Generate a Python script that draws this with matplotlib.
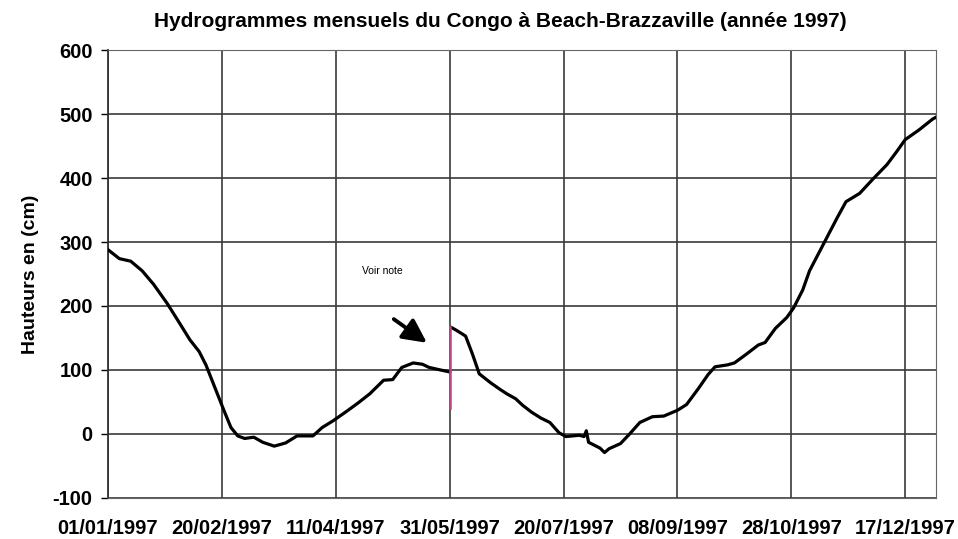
import numpy as np
import matplotlib
matplotlib.use("Agg")
from matplotlib import pyplot as plt
import matplotlib.dates as mdates

plt.rcParams['font.family'] = ['Liberation Sans', 'DejaVu Sans']
plt.rcParams['axes.unicode_minus'] = False

start = np.datetime64('1997-01-01')

# hauteurs (jour depuis le 01/01/1997, hauteur en cm)
days_a = [0, 5, 10, 15, 20, 26, 32, 36, 40, 43, 47, 51, 54, 57, 60, 64, 68, 73,
          78, 83, 90, 94, 99, 105, 110, 115, 121, 125, 129, 134, 138, 141, 146, 150]
haut_a = [288, 274, 270, 255, 234, 204, 170, 147, 129, 108, 72, 36, 10, -3, -7, -5, -13, -19,
          -14, -3, -3, 10, 21, 36, 49, 63, 84, 85, 104, 111, 109, 104, 100, 97]

days_b = [151, 153, 157, 160, 163, 168, 172, 175, 179, 182, 186, 190, 194, 198, 201, 204,
          207, 209, 210, 211, 216, 218, 220, 225, 229, 233.5, 239, 244, 250, 254, 259, 263.5,
          266.5, 272, 275, 280, 285.5, 288.5, 293, 298, 301, 305, 308, 314, 320, 324, 330,
          336, 342, 346, 350, 356, 362, 363.5]
haut_b = [166, 162, 153, 125, 94, 80, 70, 63, 55, 45, 34, 25, 18, 2, -4, -3,
          -2, -4, 5, -13, -22, -29, -23, -15, 0, 18, 27, 28, 37, 46, 70, 93,
          105, 108, 111, 124, 139, 143, 165, 182, 197, 225, 255, 296, 337, 363, 376,
          399, 421, 440, 460, 475, 492, 495]

# saut signalé (trait rose)
saut_day = 150.3
saut_bas, saut_haut = 40, 167

xtick_days = [0, 50, 100, 150, 200, 250, 300, 350]
yticks = [-100, 0, 100, 200, 300, 400, 500, 600]


def to_date(d):
    return start + np.array(np.array(d) * 24 * 60, dtype='timedelta64[m]')


fig = plt.figure(figsize=(9.58, 5.39), dpi=100)
ax = fig.add_axes([0.1127, 0.0761, 0.8643, 0.8311])

ax.plot(to_date(days_a), haut_a, color='black', lw=2.3, solid_joinstyle='round', zorder=3)
ax.plot(to_date(days_b), haut_b, color='black', lw=2.3, solid_joinstyle='round', zorder=3)
ax.plot(to_date([saut_day, saut_day]), [saut_bas, saut_haut], color='#b8468a', lw=1.8, zorder=4)

# note + fleche
ax.text(to_date(120.3), 254, "Voir note", fontsize=7.5, ha='center', va='center')
ax.annotate("", xy=(to_date(141), 140), xytext=(to_date(124.5), 182),
            arrowprops=dict(arrowstyle='-|>', mutation_scale=36, lw=2.8, color='black'))

ax.set_xlim(to_date(0), to_date(363.5))
ax.set_ylim(-100, 600)
ax.set_yticks(yticks)
ax.set_xticks(to_date(xtick_days))
ax.xaxis.set_major_formatter(mdates.DateFormatter('%d/%m/%Y'))

ax.grid(True, color='#3a3a3a', lw=1.2)
ax.set_axisbelow(True)
for side in ['top', 'right', 'bottom']:
    ax.spines[side].set_color('#666666')
ax.spines['left'].set_color('#333333')
ax.spines['left'].set_linewidth(1.3)

ax.tick_params(axis='y', length=5, width=1, direction='out', pad=6, labelsize=14.5)
ax.tick_params(axis='x', length=0, pad=15, labelsize=14.5)
for lab in ax.get_xticklabels() + ax.get_yticklabels():
    lab.set_fontweight('bold')

ax.set_ylabel("Hauteurs en (cm)", fontsize=14, fontweight='bold', labelpad=10)
fig.suptitle("Hydrogrammes mensuels du Congo à Beach-Brazzaville (année 1997)",
             x=0.522, y=0.978, fontsize=15, fontweight='bold')

plt.savefig("out.png", dpi=100)
